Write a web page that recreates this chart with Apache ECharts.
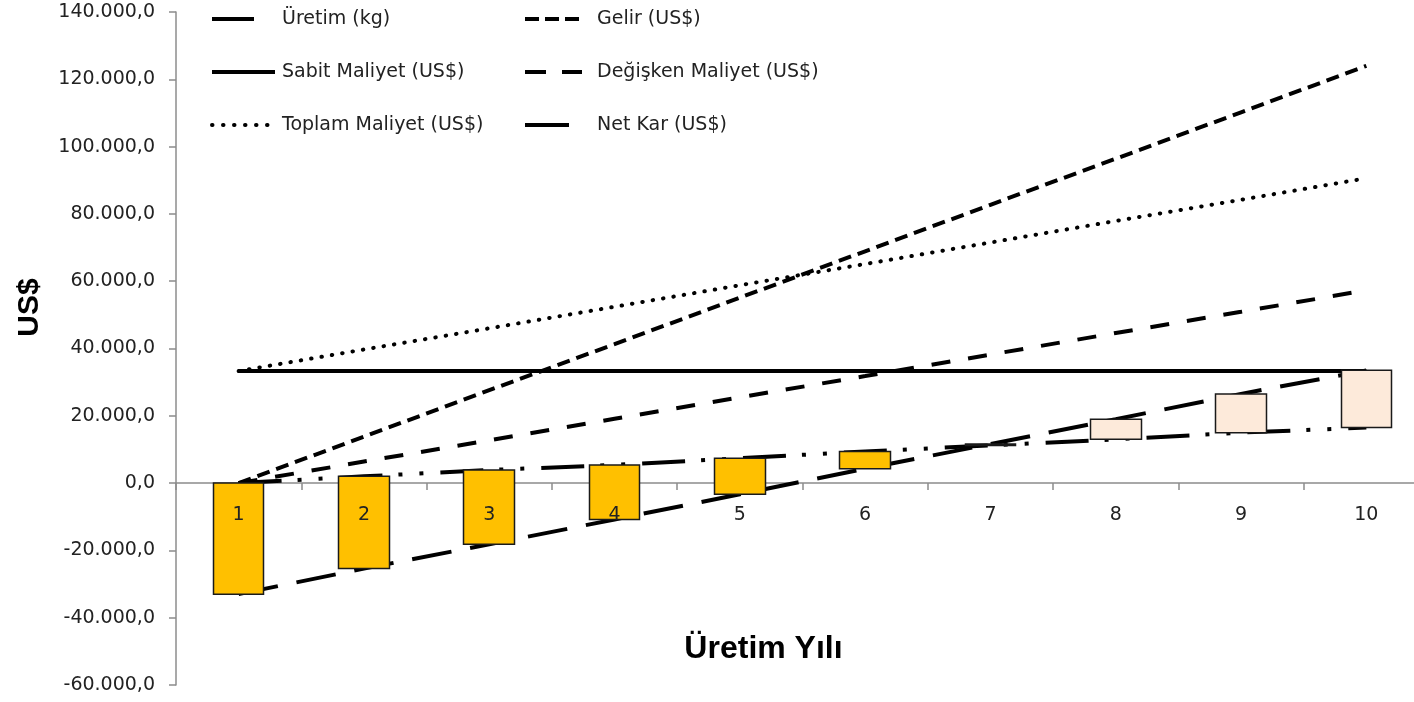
<!DOCTYPE html>
<html>
<head>
<meta charset="utf-8">
<title>Üretim Yılı</title>
<script src="https://cdn.jsdelivr.net/npm/echarts@6.0.0/dist/echarts.min.js"></script>
<style>
  html, body { margin: 0; padding: 0; background: #fff; }
  #main { width: 1414px; height: 702px; }
</style>
</head>
<body>
<div id="main"></div>
<script>
/* veriler */
var years = ['1', '2', '3', '4', '5', '6', '7', '8', '9', '10'];
var uretim = [0, 2000, 3900, 5400, 7400, 9400, 11200, 13000, 15000, 16500];
var gelir = [0, 13800, 27600, 41300, 55100, 68900, 82700, 96400, 110200, 124000];
var sabitMaliyet = [33300, 33300, 33300, 33300, 33300, 33300, 33300, 33300, 33300, 33300];
var degiskenMaliyet = [0, 6400, 12700, 19100, 25500, 31800, 38200, 44600, 50900, 57300];
var toplamMaliyet = [33300, 39700, 46000, 52400, 58800, 65100, 71500, 77900, 84200, 90600];
var netKar = [-33000, -25400, -18200, -10800, -3300, 4300, 11600, 19000, 26500, 33500];

var yTicks = { min: -60000, max: 140000, interval: 20000 };

var names = ['Üretim (kg)', 'Gelir (US$)', 'Sabit Maliyet (US$)',
             'Değişken Maliyet (US$)', 'Toplam Maliyet (US$)', 'Net Kar (US$)'];

/* 140.000,0 biçimi */
function trFormat(v) {
    var s = Math.abs(v).toString().replace(/\B(?=(\d{3})+(?!\d))/g, '.');
    return (v < 0 ? '-' : '') + s + ',0';
}

/* yukari/asagi cubuklari: Üretim ile Net Kar arasi */
var updown = [];
uretim.forEach(function (u, i) {
    var k = netKar[i];
    updown.push([u, k, Math.min(u, k), Math.max(u, k)]);
});

var txt = '#222';
var font = 'DejaVu Sans';
var axisGray = '#8c8c8c';

var lineSeries = function (name, data, type, extra) {
    var ls = { color: '#000', width: 4, type: type, cap: 'butt' };
    if (extra) { for (var k in extra) ls[k] = extra[k]; }
    return {
        name: name,
        type: 'line',
        data: data,
        symbol: 'none',
        lineStyle: ls,
        itemStyle: { color: '#000' },
        z: 2
    };
};

/* lejant cizgi ornekleri */
var legLine = function (type, cap) {
    return { type: type, width: 4, color: '#000', cap: cap || 'butt' };
};

var legendText = { fontFamily: font, fontSize: 19, color: txt, lineHeight: 20 };

var chart = echarts.init(document.getElementById('main'));

var option = {
    animation: false,
    backgroundColor: '#fff',
    grid: {
        left: 176,
        right: -15,
        top: 12,
        bottom: 17,
        outerBoundsMode: 'none'
    },
    legend: [
        {
            orient: 'vertical',
            left: 205,
            top: 4,
            itemWidth: 65,
            itemHeight: 20,
            itemGap: 33,
            itemStyle: { opacity: 0 },
            textStyle: legendText,
            data: [
                { name: names[0], lineStyle: legLine([42, 100]) },
                { name: names[2], lineStyle: legLine([63, 100]) },
                { name: names[4], lineStyle: legLine([0.5, 10.5, 0.5, 10.5, 0.5, 10.5, 0.5, 10.5, 0.5, 10.5, 0.5, 100], 'round') }
            ]
        },
        {
            orient: 'vertical',
            left: 518,
            top: 4,
            itemWidth: 67,
            itemHeight: 20,
            itemGap: 33,
            itemStyle: { opacity: 0 },
            textStyle: legendText,
            data: [
                { name: names[1], lineStyle: legLine([14, 6, 14, 6, 14, 100]) },
                { name: names[3], lineStyle: legLine([21, 16, 20, 100]) },
                { name: names[5], lineStyle: legLine([44, 100]) }
            ]
        }
    ],
    xAxis: [
        {
            type: 'category',
            data: years,
            position: 'bottom',
            boundaryGap: true,
            name: 'Üretim Yılı',
            nameLocation: 'middle',
            nameGap: -52,
            nameTextStyle: {
                fontFamily: 'Liberation Sans', fontWeight: 'bold', fontSize: 32,
                color: '#000', padding: [0, 78, 0, 0]
            },
            axisLine: { show: true, onZero: true, lineStyle: { color: axisGray, width: 1.5 } },
            axisTick: { show: true, length: 7, lineStyle: { color: axisGray, width: 1.5 } },
            axisLabel: { show: false },
            splitLine: { show: false }
        },
        {
            /* etiketler cubuklarin ustunde gorunsun */
            type: 'category',
            data: years,
            position: 'bottom',
            boundaryGap: true,
            z: 10,
            axisLine: { show: false },
            axisTick: { show: false },
            axisLabel: { fontFamily: font, fontSize: 19, color: txt, margin: -179 },
            splitLine: { show: false }
        }
    ],
    yAxis: {
        type: 'value',
        min: yTicks.min,
        max: yTicks.max,
        interval: yTicks.interval,
        name: 'US$',
        nameLocation: 'middle',
        nameRotate: 90,
        nameGap: 131,
        nameTextStyle: {
            fontFamily: 'Liberation Sans', fontWeight: 'bold', fontSize: 30,
            color: '#000', padding: [0, 0, 0, 82]
        },
        axisLine: { show: true, lineStyle: { color: axisGray, width: 1.5 } },
        axisTick: { show: true, length: 7, lineStyle: { color: axisGray, width: 1.5 } },
        axisLabel: { fontFamily: font, fontSize: 19, color: txt, margin: 21, formatter: trFormat },
        splitLine: { show: false }
    },
    series: [
        lineSeries(names[0], uretim, [43, 16, 4, 17, 4, 17]),
        lineSeries(names[1], gelir, [13, 7]),
        lineSeries(names[2], sabitMaliyet, 'solid'),
        lineSeries(names[3], degiskenMaliyet, [19, 18]),
        lineSeries(names[4], toplamMaliyet, [0.5, 10], { cap: 'round' }),
        lineSeries(names[5], netKar, [40, 19]),
        {
            name: 'updown',
            type: 'candlestick',
            data: updown,
            barWidth: 51,
            z: 3,
            itemStyle: {
                color: '#FDEADA',
                color0: '#FFC000',
                borderColor: '#1a1a1a',
                borderColor0: '#1a1a1a',
                borderWidth: 1.5
            }
        }
    ]
};

chart.setOption(option);
</script>
</body>
</html>
